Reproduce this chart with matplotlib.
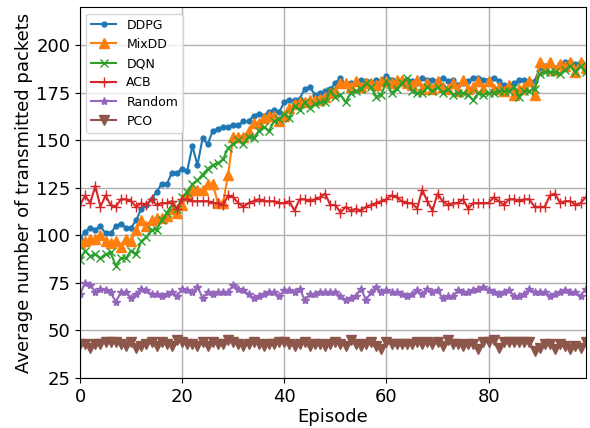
import numpy as np
import matplotlib
matplotlib.use("Agg")
import matplotlib.pyplot as plt

episodes = np.arange(100)

ddpg = [98, 102, 104, 103, 105, 101, 101, 105, 106, 104,
        104, 108, 114, 116, 119, 123, 127, 127, 133, 133,
        135, 134, 147, 137, 151, 148, 155, 156, 157, 157,
        158, 158, 160, 160, 163, 164, 163, 165, 166, 165,
        170, 171, 171, 172, 177, 178, 174, 175, 176, 177,
        180, 183, 179, 180, 180, 182, 181, 180, 182, 181,
        184, 182, 180, 181, 182, 181, 180, 183, 182, 182,
        181, 183, 181, 182, 179, 180, 181, 183, 183, 182,
        182, 183, 181, 179, 178, 180, 182, 182, 181, 181,
        188, 189, 190, 188, 190, 191, 191, 190, 191, 189]

mixdd = [96, 97, 98, 98, 100, 97, 96, 97, 94, 98,
         97, 103, 108, 105, 108, 109, 109, 110, 114, 112,
         116, 122, 124, 124, 124, 127, 127, 117, 117, 132,
         152, 152, 152, 155, 159, 159, 162, 163, 163, 160,
         163, 167, 169, 170, 170, 171, 171, 172, 173, 175,
         176, 180, 180, 178, 181, 178, 180, 180, 179, 181,
         181, 180, 182, 182, 180, 179, 182, 177, 180, 177,
         181, 178, 177, 180, 176, 182, 177, 178, 181, 177,
         181, 177, 178, 176, 179, 174, 177, 178, 181, 174,
         191, 188, 191, 187, 190, 189, 191, 186, 191, 188]

dqn = [87, 92, 89, 90, 88, 90, 91, 84, 88, 88,
       92, 90, 97, 99, 103, 103, 108, 112, 116, 114,
       120, 123, 127, 129, 132, 135, 137, 138, 140, 146,
       148, 150, 148, 152, 151, 155, 157, 155, 160, 161,
       164, 162, 168, 166, 170, 167, 169, 170, 170, 176,
       173, 174, 170, 175, 176, 177, 180, 178, 173, 174,
       181, 175, 177, 180, 183, 176, 175, 175, 178, 176,
       178, 175, 177, 174, 175, 175, 174, 171, 175, 174,
       175, 175, 176, 176, 176, 178, 173, 176, 176, 177,
       185, 186, 186, 186, 185, 187, 189, 186, 189, 186]

acb = [116, 121, 117, 126, 115, 121, 116, 115, 119, 119,
       118, 115, 117, 116, 119, 116, 117, 117, 118, 114,
       119, 119, 118, 118, 118, 118, 117, 117, 116, 121,
       120, 117, 115, 117, 118, 119, 118, 118, 118, 117,
       117, 118, 113, 119, 119, 118, 119, 120, 122, 116,
       116, 112, 115, 113, 114, 113, 115, 116, 117, 118,
       119, 121, 120, 118, 117, 117, 114, 124, 118, 113,
       122, 118, 116, 117, 117, 119, 114, 117, 117, 117,
       117, 120, 118, 116, 119, 119, 118, 119, 119, 115,
       115, 115, 121, 122, 117, 118, 118, 116, 117, 120]

random_sel = [69, 75, 74, 70, 72, 71, 70, 65, 70, 70,
              67, 69, 72, 71, 69, 69, 68, 69, 70, 68,
              72, 71, 70, 73, 67, 70, 69, 70, 70, 70,
              74, 72, 71, 69, 67, 68, 69, 70, 70, 68,
              71, 71, 70, 72, 66, 69, 69, 70, 70, 70,
              70, 68, 66, 67, 68, 72, 66, 70, 73, 70,
              71, 70, 70, 69, 68, 69, 71, 69, 72, 70,
              71, 67, 68, 68, 71, 70, 70, 71, 72, 73,
              71, 70, 69, 70, 71, 68, 68, 69, 72, 70,
              70, 70, 68, 69, 70, 71, 70, 70, 68, 72]

pco = [43, 43, 41, 43, 43, 44, 44, 44, 43, 42,
       44, 41, 42, 43, 44, 42, 44, 43, 42, 45,
       44, 43, 43, 42, 44, 42, 44, 43, 43, 45,
       44, 43, 42, 43, 44, 43, 42, 43, 43, 44,
       44, 43, 42, 43, 44, 42, 43, 43, 42, 43,
       44, 43, 42, 45, 43, 42, 43, 44, 42, 40,
       44, 43, 43, 43, 43, 43, 44, 43, 44, 43,
       44, 42, 45, 43, 43, 42, 43, 43, 40, 44,
       44, 45, 41, 44, 44, 44, 44, 44, 44, 39,
       41, 43, 43, 40, 43, 42, 40, 42, 41, 44]

series = [
    ("DDPG", ddpg, "#1f77b4", "o", 3.5),
    ("MixDD", mixdd, "#ff7f0e", "^", 7),
    ("DQN", dqn, "#2ca02c", "x", 6),
    ("ACB", acb, "#d62728", "+", 7),
    ("Random", random_sel, "#9467bd", "*", 6),
    ("PCO", pco, "#8c564b", "v", 7),
]

fig = plt.figure(figsize=(5.9, 4.28), dpi=100)
ax = fig.add_axes([0.1356, 0.117, 0.857, 0.866])

for name, vals, color, marker, ms in series:
    ax.plot(episodes, vals, color=color, marker=marker, markersize=ms,
            linewidth=1.5, label=name)

ax.set_xlim(0, 99)
ax.set_ylim(25, 220)
ax.set_xticks([0, 20, 40, 60, 80])
ax.set_yticks([25, 50, 75, 100, 125, 150, 175, 200])
ax.tick_params(labelsize=13)
ax.grid(True, color="#b0b0b0", linewidth=1.0)
ax.set_axisbelow(True)
ax.set_xlabel("Episode", fontsize=13, labelpad=2)
ax.set_ylabel("Average number of transmitted packets", fontsize=13, labelpad=2)
ax.legend(loc="upper left", fontsize=9)

fig.savefig("out.png", dpi=100)
